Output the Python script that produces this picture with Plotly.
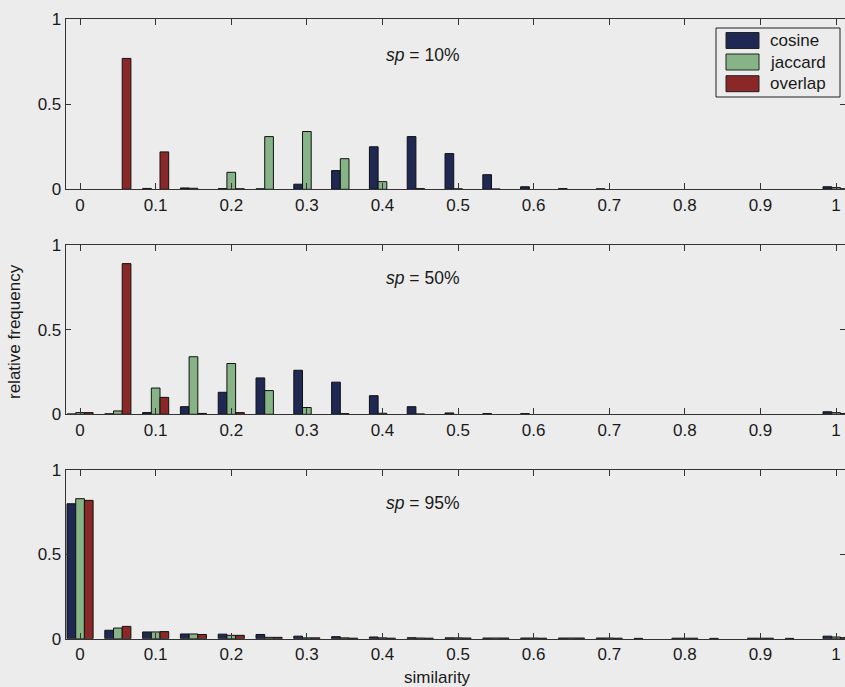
import plotly.graph_objects as go

bins = [0.00, 0.05, 0.10, 0.15, 0.20, 0.25, 0.30, 0.35, 0.40, 0.45, 0.50,
        0.55, 0.60, 0.65, 0.70, 0.75, 0.80, 0.85, 0.90, 0.95, 1.00]
series_names = ["cosine", "jaccard", "overlap"]
panel_labels = ["10%", "50%", "95%"]

# None = empty bin (no bar drawn)
# sp = 10%
cos10 = [None, None, 0.005, 0.008, 0.004, 0.003, 0.03, 0.11, 0.25, 0.31, 0.21,
         0.086, 0.015, 0.004, 0.003, None, None, None, None, None, 0.015]
jac10 = [None, None, None, 0.006, 0.10, 0.31, 0.34, 0.18, 0.045, 0.004, 0.003,
         0.002, None, None, None, None, None, None, None, None, 0.01]
ovl10 = [None, 0.77, 0.22, None, 0.003, None, None, None, None, None, None,
         None, None, None, None, None, None, None, None, None, 0.003]

# sp = 50%
cos50 = [0.002, 0.003, 0.01, 0.045, 0.13, 0.215, 0.26, 0.19, 0.11, 0.045, 0.008,
         0.004, 0.004, None, None, None, None, None, None, None, 0.015]
jac50 = [0.01, 0.02, 0.155, 0.34, 0.30, 0.14, 0.04, 0.004, 0.006, 0.002, None,
         None, None, None, None, None, None, None, None, None, 0.01]
ovl50 = [0.01, 0.89, 0.10, 0.005, 0.01, None, None, None, None, None, None,
         None, None, None, None, None, None, None, None, None, 0.004]

# sp = 95%
cos95 = [0.80, 0.05, 0.04, 0.028, 0.027, 0.025, 0.015, 0.012, 0.01, 0.006, 0.005,
         0.004, 0.004, 0.004, 0.004, 0.002, 0.003, 0.002, 0.003, 0.002, 0.015]
jac95 = [0.83, 0.063, 0.04, 0.028, 0.02, 0.008, 0.005, 0.005, 0.005, 0.004, 0.005,
         0.004, 0.004, 0.004, 0.004, None, 0.003, None, 0.003, None, 0.01]
ovl95 = [0.82, 0.073, 0.042, 0.025, 0.02, 0.008, 0.005, 0.003, 0.003, 0.003, 0.004,
         0.004, 0.003, 0.004, 0.003, None, 0.003, None, 0.003, None, 0.006]

panels = [[cos10, jac10, ovl10], [cos50, jac50, ovl50], [cos95, jac95, ovl95]]
colors = ["#1e2852", "#86b486", "#8a2727"]

x_ticks = [0, 0.1, 0.2, 0.3, 0.4, 0.5, 0.6, 0.7, 0.8, 0.9, 1]
x_ticktext = ["0", "0.1", "0.2", "0.3", "0.4", "0.5", "0.6", "0.7", "0.8", "0.9", "1"]
y_ticks = [0, 0.5, 1]
y_ticktext = ["0", "0.5", "1"]

W, H = 845, 687
bg = "#ececec"
font_family = "Liberation Sans, Arial, sans-serif"
txt = "#1a1a1a"

# pixel geometry (top, bottom) of each axes box
boxes = [(19.3, 189.3), (245.0, 414.3), (470.0, 638.7)]
x_left_px = 65.7
x_dom = [x_left_px / W, 1.0]
x_range = [-0.019, -0.019 + (W - x_left_px) / 756.0]

fig = go.Figure()
for i, vals in enumerate(panels):
    xa = "x" if i == 0 else f"x{i+1}"
    ya = "y" if i == 0 else f"y{i+1}"
    for s, name in enumerate(series_names):
        fig.add_trace(go.Bar(
            x=bins, y=vals[s], name=name, xaxis=xa, yaxis=ya,
            marker=dict(color=colors[s], line=dict(color="#111111", width=1)),
            showlegend=False, legendgroup=name, offsetgroup=str(s),
        ))

layout = dict(
    width=W, height=H,
    margin=dict(l=0, r=0, t=0, b=0, autoexpand=False),
    paper_bgcolor=bg, plot_bgcolor=bg,
    barmode="group", bargap=0.31, bargroupgap=0,
    font=dict(family=font_family, size=16, color=txt),
    showlegend=False,
)

for i, (top, bot) in enumerate(boxes):
    xk = "xaxis" if i == 0 else f"xaxis{i+1}"
    yk = "yaxis" if i == 0 else f"yaxis{i+1}"
    ya = "y" if i == 0 else f"y{i+1}"
    xa = "x" if i == 0 else f"x{i+1}"
    layout[xk] = dict(
        domain=x_dom, range=x_range, anchor=ya, automargin=False,
        tickvals=x_ticks, ticktext=x_ticktext,
        ticks="inside", ticklen=6, tickcolor="#333333",
        showline=True, linecolor="#333333", linewidth=1, mirror="ticks",
        showgrid=False, zeroline=False,
        tickfont=dict(size=17, color=txt, family=font_family),
    )
    layout[yk] = dict(
        domain=[1 - bot / H, 1 - top / H], range=[0, 1], anchor=xa, automargin=False,
        tickvals=y_ticks, ticktext=y_ticktext,
        ticks="inside", ticklen=5, tickcolor="#333333",
        showline=True, linecolor="#333333", linewidth=1, mirror="ticks",
        showgrid=False, zeroline=False,
        tickfont=dict(size=17, color=txt, family=font_family),
    )

fig.update_layout(**layout)

# legend box (drawn in the top panel, top-right corner)
lx0, lx1, ly0, ly1 = 716, 840, 28, 97
shapes = [dict(type="rect", xref="paper", yref="paper",
               x0=lx0 / W, x1=lx1 / W, y0=1 - ly1 / H, y1=1 - ly0 / H,
               line=dict(color="#222222", width=1), fillcolor=bg, layer="above")]
row_c = [40.5, 62.0, 83.7]
annotations = []
for s, name in enumerate(series_names):
    c = row_c[s]
    shapes.append(dict(type="rect", xref="paper", yref="paper",
                       x0=726 / W, x1=759 / W, y0=1 - (c + 8) / H, y1=1 - (c - 8) / H,
                       line=dict(color="#222222", width=1), fillcolor=colors[s],
                       layer="above"))
    annotations.append(dict(x=768 / W, y=1 - c / H, xref="paper", yref="paper",
                            text=name, showarrow=False, xanchor="left",
                            yanchor="middle", font=dict(size=17, color=txt)))

ann_y = [55, 278, 503]
for i, lab in enumerate(panel_labels):
    annotations.append(dict(
        x=422 / W, y=1 - ann_y[i] / H, xref="paper", yref="paper",
        text=f"<i>sp</i> = {lab}", showarrow=False,
        font=dict(size=17.5, color=txt), xanchor="center", yanchor="middle",
    ))

annotations.append(dict(
    x=14 / W, y=1 - 332 / H, xref="paper", yref="paper",
    text="relative frequency", textangle=-90, showarrow=False,
    font=dict(size=17, color=txt), xanchor="center", yanchor="middle",
))
annotations.append(dict(
    x=437 / W, y=1 - 677 / H, xref="paper", yref="paper",
    text="similarity", showarrow=False,
    font=dict(size=17, color=txt), xanchor="center", yanchor="middle",
))

fig.update_layout(shapes=shapes, annotations=annotations)

fig.write_html("out.html")
